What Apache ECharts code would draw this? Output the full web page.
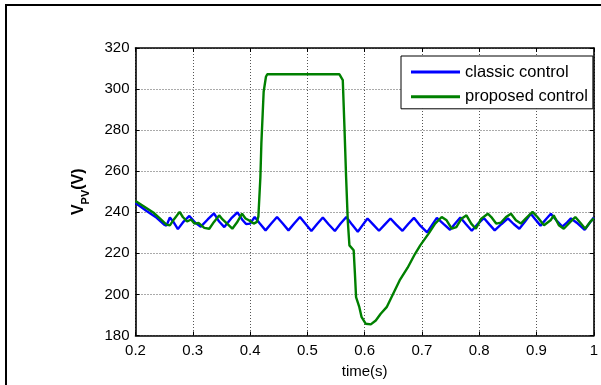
<!DOCTYPE html>
<html>
<head>
<meta charset="utf-8">
<script src="https://cdn.jsdelivr.net/npm/echarts@6/dist/echarts.min.js"></script>
<style>
html,body{margin:0;padding:0;background:#fff;}
#chart{width:601px;height:385px;}
</style>
</head>
<body>
<div id="chart"></div>
<script>
// ---- data ----
const xTicks = [0.2, 0.3, 0.4, 0.5, 0.6, 0.7, 0.8, 0.9, 1];
const yTicks = [180, 200, 220, 240, 260, 280, 300, 320];
const seriesNames = ['classic control', 'proposed control'];

const classicT = [0.200,0.220,0.237,0.250,0.254,0.260,0.267,0.274,0.284,0.294,0.304,0.314,0.326,0.337,0.346,0.355,0.367,0.378,0.386,0.393,0.400,0.408,0.417,0.427,0.437,0.447,0.457,0.467,0.477,0.487,0.497,0.507,0.517,0.527,0.537,0.548,0.558,0.568,0.578,0.588,0.597,0.605,0.615,0.625,0.635,0.645,0.655,0.666,0.676,0.686,0.697,0.709,0.718,0.726,0.738,0.749,0.758,0.767,0.777,0.787,0.798,0.808,0.818,0.827,0.839,0.850,0.860,0.870,0.880,0.890,0.898,0.907,0.916,0.925,0.935,0.945,0.953,0.960,0.972,0.984,0.992,1.000];
const classicV = [244.5,240.5,237.3,234.0,233.5,237.5,235.0,231.8,235.5,238.2,235.0,233.0,236.5,239.5,235.5,232.8,237.0,240.0,236.5,234.3,234.5,237.7,234.5,231.2,234.5,237.7,234.5,231.2,234.5,237.7,234.3,230.9,234.3,237.5,234.2,230.9,234.5,237.7,234.0,230.5,234.0,237.0,234.0,231.0,234.0,237.0,234.0,231.0,234.3,237.3,233.5,230.2,234.0,237.3,234.2,231.5,234.5,237.5,234.2,231.0,234.5,237.2,234.0,231.2,234.3,237.0,234.3,232.0,235.5,239.3,236.5,233.5,236.5,239.3,236.0,233.0,235.0,237.0,234.5,231.5,234.5,237.5];

const proposedT = [0.200,0.2135,0.231,0.242,0.254,0.260,0.268,0.277,0.2826,0.290,0.297,0.3028,0.310,0.320,0.3288,0.337,0.346,0.352,0.3603,0.369,0.377,0.386,0.392,0.3978,0.4064,0.412,0.4145,0.418,0.4197,0.422,0.4237,0.4277,0.430,0.556,0.5618,0.5647,0.5676,0.5705,0.5734,0.5808,0.583,0.585,0.5907,0.5947,0.602,0.6107,0.6194,0.628,0.6384,0.650,0.661,0.675,0.688,0.697,0.7116,0.723,0.7345,0.743,0.752,0.760,0.769,0.7777,0.786,0.794,0.8036,0.815,0.821,0.8295,0.838,0.8468,0.8554,0.864,0.8727,0.881,0.893,0.9015,0.913,0.9245,0.930,0.939,0.9475,0.959,0.9677,0.976,0.985,0.9936,1.000];
const proposedV = [245.5,243.1,239.9,237.2,234.0,233.6,236.9,240.2,237.7,235.5,236.5,234.5,234.8,232.4,232.0,235.3,238.5,236.5,234.3,232.0,235.0,239.3,237.0,236.1,234.5,235.3,238.0,257.2,273.5,288.0,298.7,306.0,307.2,307.2,304.4,281.6,257.2,236.0,223.9,221.5,210.1,198.7,193.8,188.9,185.7,185.4,187.3,190.6,193.8,200.5,206.8,213.0,219.8,223.9,229.6,234.5,237.7,236.1,232.0,232.8,236.9,238.5,234.5,232.0,236.9,239.3,237.7,234.5,235.0,237.7,239.3,236.1,234.5,236.9,240.2,237.7,233.7,236.1,238.5,233.7,232.0,235.3,237.7,235.0,232.0,235.3,237.0];

// ---- build ----
const FONT = 'Liberation Sans';
function pairs(ts, vs) { return ts.map((t, i) => [t, vs[i]]); }
const fmtX = v => String(+(+v).toFixed(1));

const chart = echarts.init(document.getElementById('chart'), null, {renderer: 'canvas'});
const gridLine = {show: true, lineStyle: {color: '#555', width: 1, type: [1, 2]}};
const axLine = {show: true, onZero: false, lineStyle: {color: '#000', width: 1.6}};
const tick = {show: true, inside: true, length: 4, lineStyle: {color: '#000', width: 1}};

chart.setOption({
  animation: false,
  backgroundColor: '#fff',
  textStyle: {fontFamily: FONT},
  graphic: [{
    type: 'rect', z: 100, silent: true,
    shape: {x: 6, y: 5, width: 640, height: 420},
    style: {fill: 'none', stroke: '#000', lineWidth: 2}
  }],
  grid: {left: 135.5, top: 48, width: 463.5, height: 287.5, containLabel: false},
  legend: {
    data: seriesNames,
    orient: 'vertical',
    left: 401, top: 56,
    padding: [7.5, 5, 3.5, 10],
    itemGap: 7.8,
    itemWidth: 49, itemHeight: 3,
    icon: 'rect',
    backgroundColor: '#fff',
    borderColor: '#000', borderWidth: 1, borderRadius: 0,
    textStyle: {fontSize: 16.5, color: '#000', fontFamily: FONT}
  },
  xAxis: [{
    type: 'value', min: xTicks[0], max: xTicks[xTicks.length - 1], interval: 0.1,
    position: 'bottom',
    name: 'time(s)', nameLocation: 'middle', nameGap: 29,
    nameTextStyle: {fontSize: 15, color: '#000', fontFamily: FONT},
    axisLine: axLine, axisTick: tick, splitLine: gridLine,
    axisLabel: {fontSize: 15, color: '#000', margin: 8, fontFamily: FONT, formatter: fmtX}
  }, {
    type: 'value', min: xTicks[0], max: xTicks[xTicks.length - 1], interval: 0.1,
    position: 'top',
    axisLine: axLine, axisTick: tick, splitLine: {show: false}, axisLabel: {show: false}
  }],
  yAxis: [{
    type: 'value', min: yTicks[0], max: yTicks[yTicks.length - 1], interval: 20,
    position: 'left',
    name: '{b|V}{s|PV}{b|(V)}', nameLocation: 'middle', nameGap: 44, nameRotate: 90,
    nameTextStyle: {
      color: '#000',
      rich: {
        b: {fontSize: 16, fontWeight: 'bold', color: '#000', fontFamily: FONT, verticalAlign: 'top', lineHeight: 21},
        s: {fontSize: 11, fontWeight: 'bold', color: '#000', fontFamily: FONT, verticalAlign: 'bottom', lineHeight: 21}
      }
    },
    axisLine: axLine, axisTick: tick, splitLine: gridLine,
    axisLabel: {fontSize: 15, color: '#000', margin: 6, fontFamily: FONT}
  }, {
    type: 'value', min: yTicks[0], max: yTicks[yTicks.length - 1], interval: 20,
    position: 'right',
    axisLine: axLine, axisTick: tick, splitLine: {show: false}, axisLabel: {show: false}
  }],
  series: [{
    name: seriesNames[0], type: 'line', data: pairs(classicT, classicV),
    symbol: 'none', smooth: false, color: '#0000ff',
    lineStyle: {color: '#0000ff', width: 2.4}, z: 2
  }, {
    name: seriesNames[1], type: 'line', data: pairs(proposedT, proposedV),
    symbol: 'none', smooth: false, color: '#008000',
    lineStyle: {color: '#008000', width: 2.4}, z: 3
  }]
});
</script>
</body>
</html>
